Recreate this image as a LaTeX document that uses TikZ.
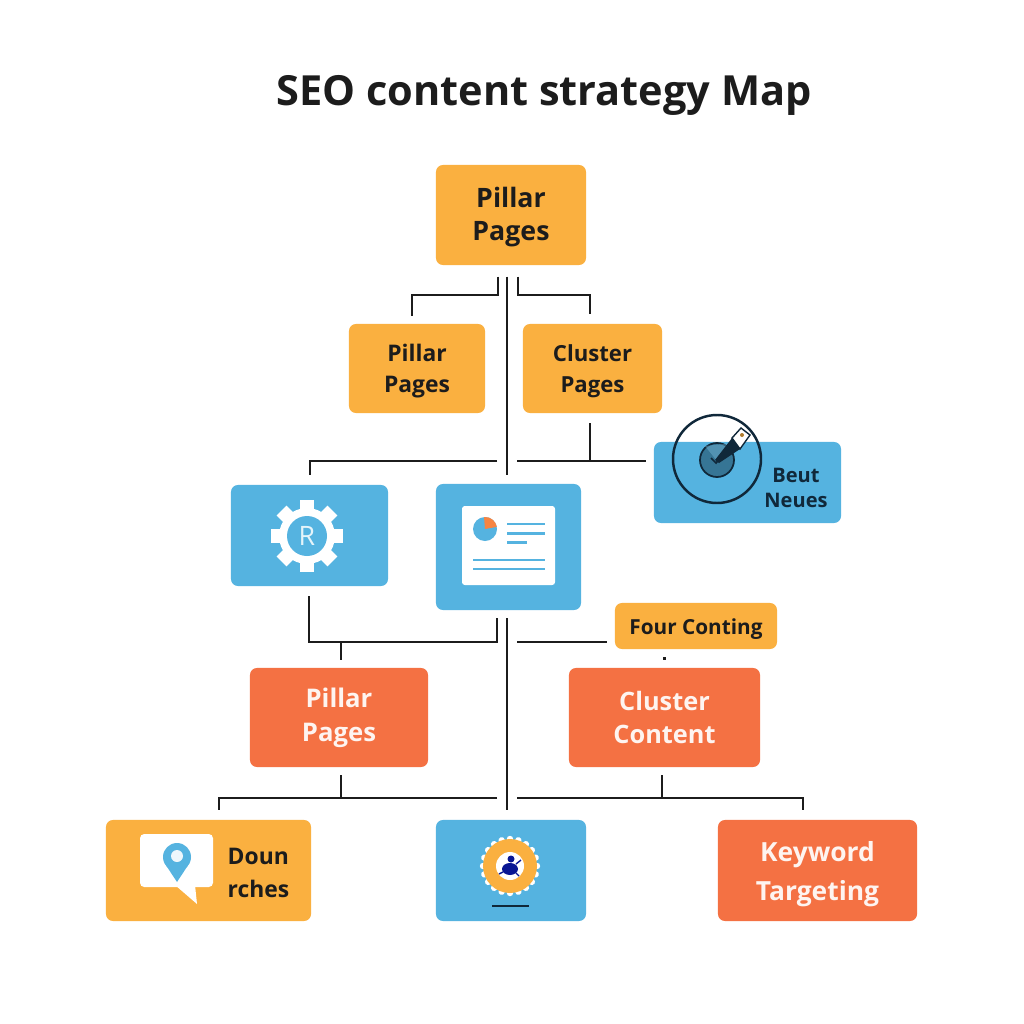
\documentclass[tikz,border=0pt]{standalone}
\usepackage{fontspec}
\setmainfont{Open Sans}
\usepackage{tikz}
\usetikzlibrary{positioning}
\definecolor{amberbox}{HTML}{FAB040}
\definecolor{bluebox}{HTML}{55B3E0}
\definecolor{redbox}{HTML}{F47143}
\definecolor{inkline}{HTML}{1C1C1C}
\definecolor{inkblue}{HTML}{10283A}
\tikzset{
  box/.style={rounded corners=2pt,inner sep=0pt,outer sep=2.4pt,align=center,font=\bfseries\fontsize{7.6}{9.2}\selectfont},
  amber/.style={box,fill=amberbox,text=inkline},
  blue/.style={box,fill=bluebox,text=inkblue},
  red/.style={box,fill=redbox,text=white!92!redbox},
  link/.style={draw=inkline,line width=0.68pt},
}
\newcommand{\toppad}[1]{\rule{0pt}{#1pt}}
\begin{document}
\begin{tikzpicture}[x=0.01cm,y=-0.01cm]
\useasboundingbox (0,0) rectangle (1024,1024);
\node (title) at (544,95) [font=\bfseries\fontsize{11.8}{14}\selectfont,text=inkline]{SEO content strategy Map};

\node [amber,minimum width=150*0.2845pt,minimum height=100*0.2845pt,outer sep=3.3pt] (toppillar) at (511,215){\toppad{7}Pillar\\Pages};
\node [amber,minimum width=136*0.2845pt,minimum height=89*0.2845pt,font=\bfseries\fontsize{6.5}{8.8}\selectfont] (midpillar) at (417,368.5){\toppad{6.4}Pillar\\Pages};
\node [amber,minimum width=139*0.2845pt,minimum height=89*0.2845pt,font=\bfseries\fontsize{6.3}{8.8}\selectfont,outer sep=2.9pt] (midcluster) at (592.5,368.5){\toppad{6.4}Cluster\\Pages};

\node [blue,minimum width=187*0.2845pt,minimum height=81*0.2845pt] (target) at (747.5,482.5){};
\node [blue,minimum width=157*0.2845pt,minimum height=101*0.2845pt,outer sep=2.9pt] (gear) at (309.5,535.5){};
\node [blue,minimum width=145*0.2845pt,minimum height=126*0.2845pt] (report) at (508.5,547){};
\node [amber,minimum width=162*0.2845pt,minimum height=46*0.2845pt,font=\bfseries\fontsize{5.9}{8}\selectfont] (four) at (696,626){\toppad{6.4}Four Conting};

\node [red,minimum width=178*0.2845pt,minimum height=99*0.2845pt,font=\bfseries\fontsize{7.3}{9.6}\selectfont] (lowpillar) at (339,717.5){Pillar\\Pages};
\node [red,minimum width=191*0.2845pt,minimum height=99*0.2845pt,font=\bfseries\fontsize{7.2}{9.6}\selectfont] (lowcluster) at (664.5,717.5){Cluster\\Content};

\node [amber,minimum width=205*0.2845pt,minimum height=101*0.2845pt,outer sep=2.9pt] (doun) at (208.5,870.5){};
\node [blue,minimum width=150*0.2845pt,minimum height=101*0.2845pt,outer sep=2.9pt] (bug) at (511,870.5){};
\node [red,minimum width=199*0.2845pt,minimum height=101*0.2845pt,outer sep=2.9pt,font=\bfseries\fontsize{7.5}{11}\selectfont] (keyword) at (817.5,870.5){\toppad{7.6}Keyword\\Targeting};

\node [font=\bfseries\fontsize{5.7}{7.3}\selectfont,text=inkblue,align=center,inner sep=0pt] (beut) at (796,488){Beut\\Neues};
\node [font=\bfseries\fontsize{6.5}{9.4}\selectfont,text=inkline,align=left,anchor=west,inner sep=0pt] (dounlabel) at (227,873){Doun\\rches};

% junctions
\coordinate (a1) at (498,295);
\coordinate (a2) at (412,295);
\coordinate (a3) at (518,295);
\coordinate (a4) at (590,295);
\coordinate (b1) at (507,475);
\coordinate (b2) at (497,461);
\coordinate (b3) at (310,461);
\coordinate (b4) at (517,461);
\coordinate (b5) at (590,461);
\coordinate (c1) at (309,642);
\coordinate (c2) at (497,642);
\coordinate (c3) at (341,642);
\coordinate (c4) at (517,642);
\coordinate (d1) at (497,798);
\coordinate (d2) at (219,798);
\coordinate (d3) at (341,798);
\coordinate (d4) at (517,798);
\coordinate (d5) at (803,798);
\coordinate (d6) at (662,798);

\draw[link](toppillar.south -| a1)--(a1)--(a2)--(midpillar.north -| a2);
\draw[link](toppillar.south -| a3)--(a3)--(a4)--(midcluster.north -| a4);
\draw[link](toppillar.south -| b1)--(b1);
\draw[link](b2)--(b3)--(gear.north -| b3);
\draw[link](b4)--(target.west |- b4);
\draw[link](midcluster.south -| b5)--(b5);
\draw[link](gear.south -| c1)--(c1)--(c2)--(report.south -| c2);
\draw[link](c3)--(lowpillar.north -| c3);
\draw[link](c4)--(four.west |- c4);
\draw[link](four.south -| lowcluster.north)--(lowcluster.north);
\draw[link](report.south -| b1)--(bug.north -| b1);
\draw[link](d1)--(d2)--(doun.north -| d2);
\draw[link](lowpillar.south -| d3)--(d3);
\draw[link](d4)--(d5)--(keyword.north -| d5);
\draw[link](lowcluster.south -| d6)--(d6);

% target icon
\draw[inkblue,line width=0.7pt] (717,459) circle (44);
\fill[bluebox!55!inkblue,draw=inkblue,line width=0.5pt] (717,460) circle (17);
\fill[bluebox!70!white,opacity=.35] (717,461)--(705,446)--(733,443)--cycle;
\fill[white,draw=inkblue,line width=0.4pt] (732,438)--(741,428)--(750,435)--(740,449)--cycle;
\fill[inkblue] (715,460)--(732,438)--(740,449)--(719,463)--cycle;
\fill[amberbox!70!black] (742,435) circle (2);
\draw[inkblue,line width=0.5pt] (711,458)--(716,463)--(722,456);

% gear icon
\fill[white] (307,536) circle (28);
\foreach \ang in {0,45,...,315}{
  \fill[white,shift={(307,536)},rotate=\ang] (-7,-36) rectangle (7,-24);
}
\fill[bluebox] (307,536) circle (20);
\node [text=white!85!bluebox,font=\fontsize{7.6}{8}\selectfont,inner sep=0pt] (gearletter) at (307,536){R};

% report icon
\fill[white,rounded corners=0.8pt] (462,506) rectangle (555,585);
\fill[bluebox] (485,529) circle (12);
\fill[redbox!70!amberbox] (485,529)--(484,517) arc (265:350:12)--cycle;
\foreach \ypos/\xend in {524/545,533.5/545,542.5/527}{
  \draw[bluebox,line width=0.8pt] (507,\ypos)--(\xend,\ypos);
}
\foreach \ypos in {560,569}{
  \draw[bluebox,line width=0.8pt] (473,\ypos)--(545,\ypos);
}

% bubble icon
\fill[white,rounded corners=1.2pt] (140,834) rectangle (213,887);
\fill[white] (175,885)--(197,904)--(195,885)--cycle;
\fill[bluebox] (177,857) circle (14);
\fill[bluebox] (164.5,863)--(177,882)--(189.5,863)--cycle;
\fill[white!90!bluebox] (177,856) circle (6);

% bug icon
\foreach \ang in {0,18,...,342}{
  \fill[white,shift={(510,866)},rotate=\ang] (0,-27) circle (3.2);
}
\fill[amberbox] (510,866) circle (27);
\fill[white] (510,866) circle (14);
\fill[blue!45!inkblue] (510,869) ellipse (8 and 6);
\fill[blue!45!inkblue] (511,859) circle (3.5);
\draw[blue!45!inkblue,line width=0.4pt] (516,864)--(521,860) (503,872)--(499,874) (516,873)--(519,876);
\draw[inkblue,line width=0.6pt] (492,906)--(529,906);
\end{tikzpicture}
\end{document}
